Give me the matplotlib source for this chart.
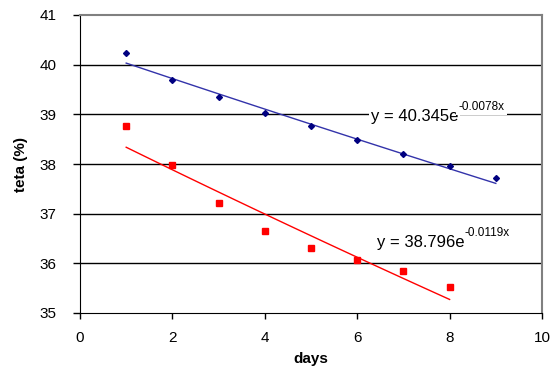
import numpy as np
import matplotlib
matplotlib.use("Agg")
import matplotlib.pyplot as plt

plt.rcParams['font.family'] = ['Liberation Sans', 'DejaVu Sans']

days_a = [1, 2, 3, 4, 5, 6, 7, 8, 9]
teta_a = [40.23, 39.70, 39.34, 39.03, 38.77, 38.49, 38.21, 37.95, 37.71]
days_b = [1, 2, 3, 4, 5, 6, 7, 8]
teta_b = [38.76, 37.98, 37.22, 36.66, 36.31, 36.07, 35.85, 35.53]
fit_a = (40.345, -0.0078)
fit_b = (38.796, -0.0119)
eq_a = ('y = 40.345e', '-0.0078x')
eq_b = ('y = 38.796e', '-0.0119x')

fig = plt.figure(figsize=(5.52, 3.72), dpi=100)
ax = fig.add_axes([80/552, 59/372, 462/552, 298/372])

for y in range(36, 41):
    ax.axhline(y, color='black', lw=1.0, zorder=1)

xa = np.linspace(min(days_a), max(days_a), 50)
xb = np.linspace(min(days_b), max(days_b), 50)
ax.plot(xa, fit_a[0]*np.exp(fit_a[1]*xa), color='#3333aa', lw=1.0, zorder=2)
ax.plot(xb, fit_b[0]*np.exp(fit_b[1]*xb), color='#ff0000', lw=1.0, zorder=2)
ax.plot(days_a, teta_a, linestyle='none', marker='D', ms=3.0, color='#000080', zorder=3)
ax.plot(days_b, teta_b, linestyle='none', marker='s', ms=3.8, color='#ff0000', zorder=3)


def equation(x, y, parts, bg):
    kw = dict(facecolor='white', edgecolor='none', pad=1.5) if bg else None
    t = ax.text(x, y, parts[0], fontsize=12, va='center', ha='left', bbox=kw, zorder=4)
    ax.annotate(parts[1], xy=(1, 0.5), xycoords=t, xytext=(0.0, 2.5),
                textcoords='offset points', fontsize=8.5, va='bottom', ha='left',
                bbox=kw, zorder=4)


equation(6.3, 38.96, eq_a, True)
equation(6.42, 36.42, eq_b, False)

ax.set_xlim(0, 10)
ax.set_ylim(35, 41)
ax.set_xticks(range(0, 11, 2))
ax.set_yticks(range(35, 42))
ax.tick_params(axis='y', direction='out', length=5, labelsize=11, width=1, pad=12)
ax.tick_params(axis='x', direction='out', length=4, labelsize=11, width=1, pad=9)
ax.set_xlabel('days', fontsize=11, fontweight='bold', labelpad=5)
ax.set_ylabel('teta (%)', fontsize=11, fontweight='bold', labelpad=8)
for s in ['top', 'right']:
    ax.spines[s].set_color('#808080')
    ax.spines[s].set_linewidth(1.5)
for s in ['left', 'bottom']:
    ax.spines[s].set_color('black')

fig.savefig('out.png', dpi=100)
